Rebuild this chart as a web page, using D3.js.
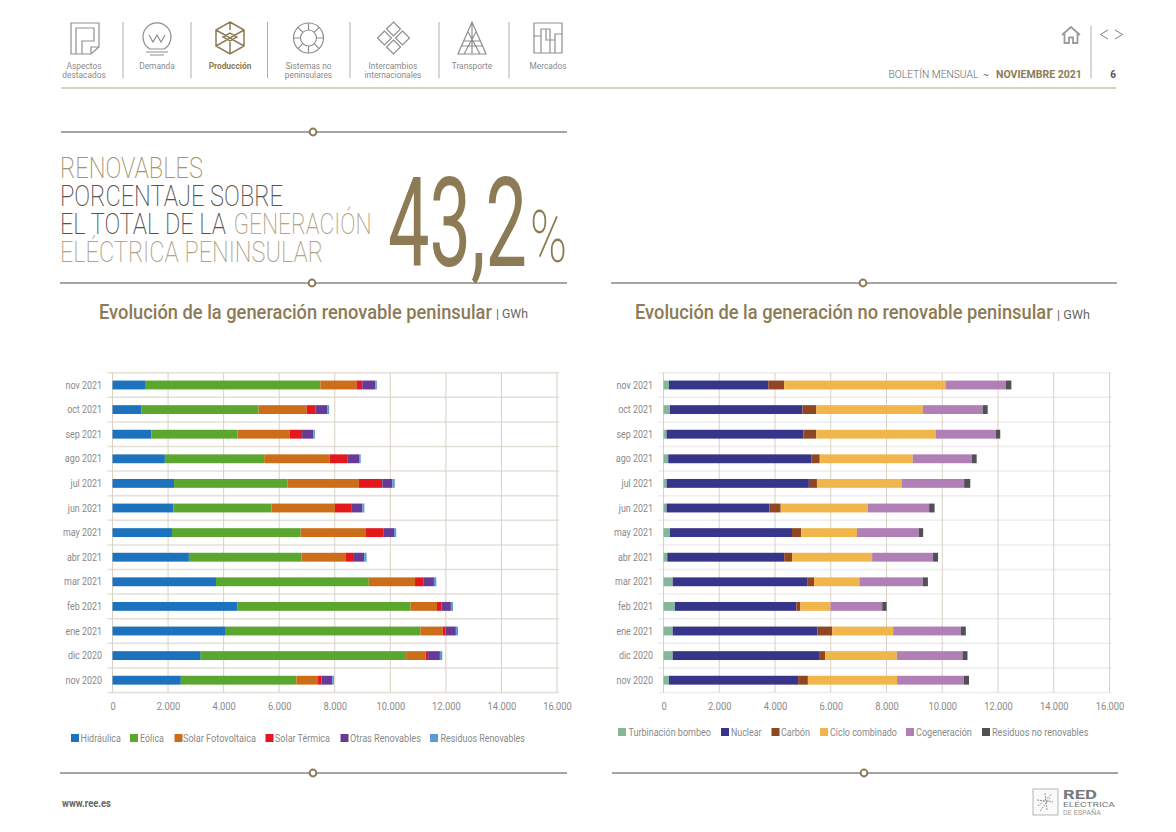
<!DOCTYPE html>
<html lang="es"><head><meta charset="utf-8">
<script src="https://cdn.jsdelivr.net/npm/d3@7"></script>
<style>
html,body{margin:0;padding:0;background:#fff;overflow:hidden}
svg{display:block}
text{font-family:"Roboto",sans-serif}
</style></head><body><svg id="c" width="1176" height="832"></svg>
<script>
const months=["nov 2021","oct 2021","sep 2021","ago 2021","jul 2021","jun 2021","may 2021","abr 2021","mar 2021","feb 2021","ene 2021","dic 2020","nov 2020"];
const tickValues=[0,2000,4000,6000,8000,10000,12000,14000,16000];
const tickLabels=["0","2.000","4.000","6.000","8.000","10.000","12.000","14.000","16.000"];

const hidraulica=[1170,1035,1400,1885,2215,2190,2140,2750,3725,4500,4050,3175,2460];
const eolica=[6310,4220,3100,3575,4090,3530,4635,4050,5500,6230,7030,7395,4160];
const fotovoltaica=[1300,1730,1885,2360,2565,2285,2350,1605,1665,950,805,705,780];
const termica=[210,315,440,630,840,610,620,255,315,160,100,85,120];
const otras=[475,440,400,425,365,375,390,400,365,340,375,425,390];
const resRenov=[50,60,60,60,85,75,75,85,85,75,75,85,60];

const turbinacion=[195,230,110,170,110,110,230,135,330,410,330,330,195];
const nuclear=[3565,4755,4910,5130,5105,3685,4380,4195,4825,4355,5190,5250,4635];
const carbon=[570,500,460,305,290,410,330,280,245,145,535,220,350];
const ciclo=[5785,3820,4295,3335,3035,3130,2000,2875,1625,1080,2185,2570,3200];
const cogeneracion=[2170,2145,2145,2125,2245,2195,2220,2185,2280,1855,2425,2355,2400];
const resNoRenov=[195,180,160,170,220,195,155,180,180,160,180,180,180];

const renovNames=["Hidráulica","Eólica","Solar Fotovoltaica","Solar Térmica","Otras Renovables","Residuos Renovables"];
const renovColors=["#1c72bc","#5aa62f","#cc6e19","#e4171c","#673a95","#5b9bd5"];
const noRenovNames=["Turbinación bombeo","Nuclear","Carbón","Ciclo combinado","Cogeneración","Residuos no renovables"];
const noRenovColors=["#85b79b","#37358a","#8f4723","#f0b64c","#b07fb6","#505155"];
const navLabels=[["Aspectos","destacados"],["Demanda"],["Producción"],["Sistemas no","peninsulares"],["Intercambios","internacionales"],["Transporte"],["Mercados"]];

const svg=d3.select("#c");
const GOLD="#8c7b55",MGOLD="#a39470",LGOLD="#b0a488",GREY="#8a8a8a";

function fit(x,y,w,str,size,fill,weight){
  const t=svg.append("text").attr("font-size",size).attr("fill",fill).attr("font-weight",weight||400).text(str);
  const n=t.node().getComputedTextLength();
  t.attr("transform",`translate(${x},${y}) scale(${w/n},1)`);
  return t;
}

function chart(cfg){
  const x=d3.scaleLinear().domain([0,16000]).range(cfg.xr);
  const y=d3.scaleBand().domain(months).range([372.7,692.5]).paddingInner(0.64).paddingOuter(0.32);
  const g=svg.append("g");
  const lines=d3.range(months.length+1).map(i=>372.7+i*y.step());
  g.selectAll(".h").data(lines).join("line").attr("x1",cfg.xr[0]-5).attr("x2",cfg.xr[1]+2)
    .attr("y1",d=>d).attr("y2",d=>d).attr("stroke",cfg.hcolor).attr("stroke-width",1.5);
  g.selectAll(".v").data(tickValues).join("line").attr("x1",d=>x(d)).attr("x2",d=>x(d))
    .attr("y1",372.7).attr("y2",692.5).attr("stroke","#d9d1c3").attr("stroke-width",1);
  const rows=months.map((m,i)=>{const r={m};cfg.names.forEach((n,k)=>r[n]=cfg.series[k][i]);return r;});
  const layers=d3.stack().keys(cfg.names)(rows);
  g.selectAll(".l").data(layers).join("g").attr("fill",(d,i)=>cfg.colors[i])
    .selectAll("rect").data(d=>d).join("rect")
    .attr("x",d=>x(d[0])).attr("width",d=>x(d[1])-x(d[0]))
    .attr("y",d=>y(d.data.m)).attr("height",y.bandwidth());
  const ax=d3.axisBottom(x).tickValues(tickValues).tickFormat((d,i)=>tickLabels[i]).tickSize(0).tickPadding(0);
  const gx=svg.append("g").attr("transform","translate(0,710)").call(ax);
  gx.select(".domain").remove();
  gx.selectAll("text").attr("font-size",11).attr("fill",GREY).attr("dy",0).attr("y",0)
    .style("font-family","Roboto,sans-serif").attr("transform","scale(0.85,1)");
  const ay=d3.axisLeft(y).tickSize(0).tickPadding(0);
  const gy=svg.append("g").attr("transform",`translate(${cfg.xr[0]-10.5},0)`).call(ay);
  gy.select(".domain").remove();
  gy.selectAll("text").attr("font-size",11).attr("fill",GREY)
    .style("font-family","Roboto,sans-serif").attr("transform","scale(0.81,1)");
  cfg.legend.forEach((p,i)=>{
    svg.append("rect").attr("x",p[0]).attr("y",cfg.ly-4).attr("width",8).attr("height",8).attr("fill",cfg.colors[i]);
    fit(p[1],cfg.ly+4,p[2]-p[1],cfg.names[i],11,GREY);
  });
}
chart({xr:[112.5,557],hcolor:"#e4dfd7",names:renovNames,colors:renovColors,
  series:[hidraulica,eolica,fotovoltaica,termica,otras,resRenov],ly:738,
  legend:[[71,80.5,121],[130,140,164],[174.5,183,256],[265.5,275,330],[340.5,350,421],[430,440.5,525]]});
chart({xr:[663.5,1109.5],hcolor:"#ececec",names:noRenovNames,colors:noRenovColors,
  series:[turbinacion,nuclear,carbon,ciclo,cogeneracion,resNoRenov],ly:732,
  legend:[[618,628.5,711],[721,731,761.5],[771.5,781,810],[820,830,897],[906,916,972],[982,992,1088.5]]});

function rule(x1,x2,y,cx){
  svg.append("line").attr("x1",x1).attr("x2",x2).attr("y1",y).attr("y2",y).attr("stroke","#4d4a45").attr("stroke-width",1);
  svg.append("circle").attr("cx",cx).attr("cy",y).attr("r",3.4).attr("fill","#fff").attr("stroke",GOLD).attr("stroke-width",2);
}
rule(61,567,132,313);rule(60,567,283,312);rule(611,1117,283,863);rule(60,567,773,313);rule(612,1118,773,864);

const HS=29.5;
fit(60,178,143,"RENOVABLES",HS,MGOLD,200);
fit(60,206,223,"PORCENTAJE SOBRE",HS,"#55524d",200);
fit(60,234,166,"EL TOTAL DE LA",HS,"#55524d",200);
fit(233.5,234,138,"GENERACIÓN",HS,LGOLD,200);
fit(60,262,263,"ELÉCTRICA PENINSULAR",HS,LGOLD,200);
fit(388,266,139,"43,2",125,GOLD,400);
fit(530,262,37,"%",72,GOLD,200);

fit(99,319,393,"Evolución de la generación renovable peninsular",21,GOLD,500);
fit(496,318,32,"| GWh",13.5,"#666");
fit(635,319,418,"Evolución de la generación no renovable peninsular",21,GOLD,500);
fit(1057,319,33,"| GWh",13.5,"#666");

const navCx=[84,157,230,308.5,393,472,548];
navLabels.forEach((l,i)=>{
  l.forEach((s,k)=>{
    const t=svg.append("text").attr("text-anchor","middle").attr("font-size",9.5)
      .attr("fill",i===2?GOLD:"#8a8a8a").attr("font-weight",i===2?700:400).text(s);
    t.attr("transform",`translate(${navCx[i]},${69+k*9}) scale(0.88,1)`);
  });
});
[123,191,267.5,350,439,509].forEach(v=>svg.append("line").attr("x1",v).attr("x2",v).attr("y1",22).attr("y2",78).attr("stroke","#9a9a9a").attr("stroke-width",.8));
svg.append("line").attr("x1",61).attr("x2",1116).attr("y1",88).attr("y2",88).attr("stroke","#b3a580").attr("stroke-width",1);

function icon(cx,col,draw){const g=svg.append("g").attr("transform",`translate(${cx},38)`).attr("fill","none").attr("stroke",col).attr("stroke-width",1.2);draw(g);}
const P=(g,d)=>g.append("path").attr("d",d);
icon(85,"#8f8f8f",g=>{P(g,"M-14 -15H14V9L6 16H-14Z M-9 16V-10H9V3H-3V16 M6 16V9H14");});
icon(157,"#8f8f8f",g=>{P(g,"M-7 11A14 14 0 1 1 7 11Z M-8 -3L-4 4L0 -3L4 4L8 -3 M-11 14H11 M-7 17H7");});
icon(230,GOLD,g=>{g.attr("stroke-width",1.5);P(g,"M0 -16L14 -8V8L0 16L-14 8V-8Z M-14 -8L0 0L14 -8 M-14 8L0 0L14 8 M0 -16V-8 M-7 -1L0 -5L7 -1L0 3Z M0 16V4");});
icon(308.5,"#8f8f8f",g=>{g.append("circle").attr("r",15);g.append("circle").attr("r",8);P(g,"M0 -15V-8 M0 8V15 M-15 0H-8 M8 0H15 M-10.6 -10.6L-5.7 -5.7 M10.6 -10.6L5.7 -5.7 M-10.6 10.6L-5.7 5.7 M10.6 10.6L5.7 5.7");});
icon(393.5,"#8f8f8f",g=>{P(g,"M0 -16L7 -9L0 -2L-7 -9Z M0 2L7 9L0 16L-7 9Z M-9 -7L-16 0L-9 7L-2 0Z M9 -7L16 0L9 7L2 0Z");});
icon(472,"#8f8f8f",g=>{P(g,"M0 -16L14 16H-14Z M0 -16V16 M-8 3L8 3 M-4 -6L8 16 M4 -6L-8 16 M-10 8L10 8");});
icon(548,"#8f8f8f",g=>{P(g,"M-14 -15H14V15H-14Z M-14 -2H-7V15 M-7 -2V-9H2V15 M2 2H7 M7 15V-4H14 M-2 -9V2H2");});

svg.append("path").attr("d","M1062 35L1071 27L1080 35 M1064.5 33V43H1069V37.5H1073V43H1077.5V33").attr("fill","none").attr("stroke","#9b9b9b").attr("stroke-width",1.8);
svg.append("line").attr("x1",1091).attr("x2",1091).attr("y1",26).attr("y2",78).attr("stroke","#9a9a9a").attr("stroke-width",.8);
svg.append("path").attr("d","M1108 30L1100.5 34.5L1108 39 M1115 30L1122.5 34.5L1115 39").attr("fill","none").attr("stroke","#808080").attr("stroke-width",1);
fit(888.5,78,90,"BOLETÍN MENSUAL",10.5,"#666",300);
fit(983,78,6,"~",10,"#666");
fit(996,78,86,"NOVIEMBRE 2021",11,GOLD,700);
svg.append("text").attr("x",1113).attr("y",78).attr("text-anchor","middle").attr("font-size",10).attr("font-weight",700).attr("fill","#555").text("6");

fit(62,807,49,"www.ree.es",10,"#666",700);
svg.append("rect").attr("x",1033).attr("y",789).attr("width",25).attr("height",26).attr("fill","#fafafa").attr("stroke","#b5b5b5");
svg.append("path").attr("d","M1038 806L1052 794 M1040 811L1050 798 M1037 800L1053 802 M1045 793L1047 810").attr("fill","none").attr("stroke","#777").attr("stroke-width",.8).attr("stroke-dasharray","2 1");
fit(1063,799,34,"RED",13,"#77787b",700);
fit(1063,807,52,"ELÉCTRICA",7.5,"#77787b",400);
fit(1063,815,38,"DE ESPAÑA",6.5,"#9a9a9a",400);
</script></body></html>
